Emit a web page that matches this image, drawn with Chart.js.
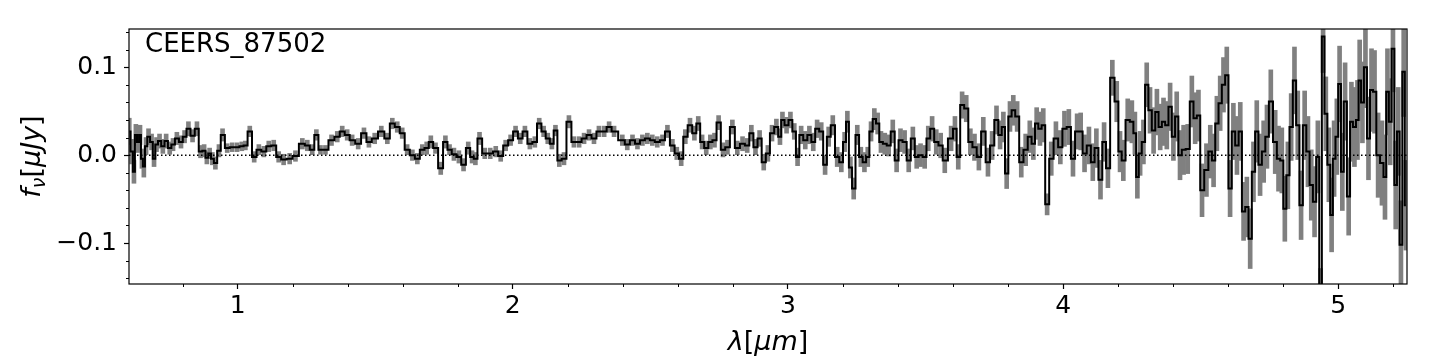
<!DOCTYPE html>
<html>
<head>
<meta charset="utf-8">
<title>CEERS_87502</title>
<script src="https://cdn.jsdelivr.net/npm/chart.js@4.4.1/dist/chart.umd.min.js"></script>
<style>
    body{ margin:0; background:#fff; }
    canvas{ display:block; }
</style>
</head>
<body>
<canvas id="specChart" width="1435" height="360"></canvas>
<script>

/* SPECTRUM DATA */

const objectName = "CEERS_87502";

const wavelength = [
    0.606,0.615,0.623,0.630,0.638,0.645,0.652,0.659,0.667,0.676,0.687,0.696,0.705,0.716,0.728,0.740,0.753,0.765,0.779,0.794,0.807,0.821,0.836,0.852,0.865,0.878,0.888,0.898,0.908,0.919,0.932,0.945,0.962,0.980,0.998,1.015,1.028,1.044,1.060,1.077,1.095,1.113,1.131,1.149,1.167,
    1.189,1.210,1.235,1.253,1.271,1.286,1.301,1.319,1.341,1.362,1.380,1.398,1.416,1.438,1.459,1.477,1.498,1.522,1.544,1.562,1.580,1.598,1.616,1.635,1.653,1.671,1.687,1.702,1.719,1.738,1.755,1.770,
    1.786,1.804,1.821,1.838,1.852,1.864,1.879,1.898,1.918,1.938,1.956,1.974,1.992,2.010,2.027,2.044,2.062,2.080,2.096,2.112,2.127,2.142,2.155,2.169,2.186,2.204,2.222,2.241,2.259,2.277,2.295,2.313,2.332,2.350,2.368,
    2.398,2.416,2.435,2.453,2.471,2.489,2.507,2.525,2.544,2.562,2.580,2.596,2.612,2.627,2.644,2.660,2.674,2.688,2.703,2.718,2.733,2.748,2.764,2.780,2.798,2.816,2.835,2.852,2.867,2.882,2.897,2.912,2.927,2.942,2.958,2.971,
    2.980,2.995,3.009,3.023,3.035,3.048,3.063,3.078,3.092,3.106,3.121,3.135,3.148,3.163,3.179,3.194,3.206,3.216,3.227,3.239,3.252,3.265,3.278,3.290,3.302,3.314,3.326,3.338,3.352,3.366,3.381,3.395,3.409,3.424,3.439,3.454,3.468,3.482,3.497,3.510,3.524,3.539,3.555,3.570,
    3.593,3.607,3.619,3.633,3.648,3.663,3.678,3.694,3.710,3.727,3.742,3.758,3.771,3.783,3.795,3.807,3.819,3.833,3.848,3.864,3.879,3.892,3.904,3.916,3.928,3.942,3.957,3.974,3.990,4.005,4.021,4.036,4.051,4.064,4.078,4.094,4.108,4.121,4.136,4.149,4.163,4.179,
    4.195,4.207,4.219,4.235,4.250,4.261,4.270,4.280,4.292,4.304,4.316,4.329,4.341,4.353,4.365,4.377,4.389,4.401,4.413,4.425,4.438,4.453,4.468,4.480,4.492,4.505,4.521,4.535,4.547,4.559,4.571,4.583,4.595,4.607,4.619,4.632,4.644,4.656,4.668,4.680,4.692,4.704,4.716,4.729,4.741,4.755,
    4.771,4.783,4.795,4.806,4.817,4.829,4.841,4.853,4.865,4.878,4.890,4.902,4.914,4.926,4.936,4.945,4.955,4.966,4.976,4.985,4.995,5.005,5.015,5.025,5.038,5.048,5.059,5.070,5.078,5.088,5.099,5.110,5.121,5.132,5.145,5.159,5.170,5.179,5.189,5.199,5.209,5.218,5.228,5.238,5.246
];

const flux = [
    0.027,0.004,-0.019,0.023,0.015,0.023,-0.004,-0.013,0.010,0.021,0.015,-0.004,0.012,0.016,0.010,0.016,0.008,0.012,0.019,0.015,0.021,0.030,0.022,0.030,0.004,0.005,-0.003,0.002,-0.004,-0.009,0.005,0.023,0.008,0.009,0.009,0.010,0.011,0.027,-0.002,0.006,0.004,0.010,0.011,-0.002,-0.005,
    -0.004,-0.001,0.013,0.011,0.006,0.023,0.006,0.006,0.017,0.021,0.027,0.023,0.017,0.013,0.025,0.015,0.019,0.027,0.019,0.036,0.032,0.025,0.006,0.000,-0.004,0.006,0.008,0.015,0.008,-0.015,0.015,0.006,
    0.001,-0.002,-0.011,0.008,-0.002,-0.004,0.019,0.002,0.002,0.004,-0.001,0.011,0.017,0.027,0.019,0.027,0.013,0.015,0.036,0.027,0.019,0.013,0.028,-0.006,-0.004,0.038,0.015,0.015,0.019,0.023,0.019,0.027,0.027,0.032,0.027,
    0.017,0.012,0.017,0.013,0.017,0.019,0.017,0.015,0.017,0.027,0.011,0.002,-0.004,0.021,0.034,0.025,0.036,0.015,0.008,0.015,0.017,0.037,0.006,0.009,0.032,0.008,0.013,0.011,0.025,0.009,0.019,-0.008,0.002,0.025,0.032,0.021,
    0.040,0.034,0.040,0.027,-0.002,0.023,0.017,0.023,0.015,0.030,0.027,-0.011,0.021,0.034,-0.002,-0.008,0.015,0.038,-0.014,-0.038,0.023,-0.002,-0.008,-0.002,0.027,0.041,0.036,0.015,0.013,0.011,0.027,-0.006,0.017,0.015,-0.006,0.019,-0.002,0.000,-0.002,0.019,0.030,0.015,0.011,-0.006,
    0.019,0.030,-0.002,0.057,0.053,0.015,0.009,-0.002,0.027,-0.008,0.011,0.040,0.023,0.032,-0.021,0.044,0.051,0.044,-0.008,0.006,0.021,0.013,0.036,0.030,0.034,-0.056,-0.004,0.019,0.009,0.030,0.032,-0.004,0.027,0.027,0.002,0.011,-0.008,0.008,-0.028,0.015,-0.015,0.088,
    0.061,0.004,-0.006,0.040,0.038,0.025,-0.025,0.002,0.015,0.080,0.051,0.028,0.049,0.032,0.038,0.034,0.055,0.021,0.044,0.000,0.006,0.007,0.061,0.042,0.045,-0.040,-0.017,0.004,-0.006,0.036,0.059,0.080,0.091,-0.038,0.027,0.011,0.027,-0.064,-0.059,-0.095,-0.019,0.027,-0.011,0.004,0.021,0.061,
    0.015,-0.004,-0.006,-0.061,-0.023,0.032,0.085,0.034,-0.057,0.034,0.004,-0.034,-0.053,-0.002,-0.170,0.135,0.047,-0.011,-0.068,-0.004,0.021,0.081,-0.019,0.061,-0.047,0.038,0.032,0.040,0.085,0.060,0.100,0.019,0.074,0.072,0.000,-0.009,-0.025,0.072,0.038,0.121,-0.034,0.027,-0.102,0.095,-0.057
];

const fluxErr = [
    0.015,0.014,0.013,0.012,0.012,0.011,0.011,0.012,0.010,0.009,0.009,0.009,0.008,0.008,0.008,0.008,0.007,0.007,0.007,0.007,0.007,0.008,0.007,0.008,0.007,0.007,0.007,0.006,0.007,0.007,0.007,0.007,0.005,0.005,0.005,0.005,0.005,0.006,0.006,0.006,0.006,0.006,0.006,0.006,0.006,
    0.006,0.006,0.006,0.006,0.006,0.006,0.005,0.005,0.006,0.006,0.006,0.006,0.006,0.006,0.006,0.006,0.006,0.006,0.006,0.006,0.006,0.006,0.006,0.006,0.006,0.006,0.007,0.007,0.006,0.007,0.007,0.006,
    0.007,0.007,0.007,0.007,0.007,0.007,0.007,0.006,0.006,0.006,0.006,0.006,0.006,0.006,0.006,0.006,0.006,0.006,0.006,0.006,0.006,0.006,0.006,0.007,0.007,0.007,0.006,0.006,0.006,0.006,0.006,0.006,0.006,0.006,0.006,
    0.006,0.006,0.006,0.006,0.006,0.006,0.006,0.006,0.006,0.007,0.007,0.007,0.008,0.008,0.008,0.008,0.008,0.008,0.008,0.008,0.008,0.008,0.008,0.008,0.008,0.008,0.008,0.008,0.009,0.009,0.009,0.009,0.009,0.009,0.009,0.009,
    0.009,0.009,0.009,0.009,0.010,0.010,0.010,0.010,0.010,0.010,0.010,0.011,0.011,0.011,0.011,0.011,0.011,0.012,0.012,0.012,0.011,0.011,0.011,0.011,0.011,0.012,0.012,0.012,0.012,0.012,0.013,0.013,0.013,0.013,0.013,0.013,0.013,0.013,0.013,0.014,0.014,0.014,0.014,0.014,
    0.014,0.014,0.014,0.015,0.015,0.015,0.015,0.015,0.016,0.016,0.016,0.016,0.016,0.017,0.017,0.017,0.017,0.017,0.017,0.018,0.018,0.018,0.018,0.019,0.019,0.012,0.019,0.019,0.019,0.020,0.020,0.020,0.020,0.021,0.021,0.021,0.021,0.022,0.022,0.022,0.022,0.020,
    0.023,0.023,0.023,0.024,0.024,0.024,0.024,0.025,0.025,0.025,0.026,0.026,0.026,0.026,0.027,0.027,0.027,0.027,0.028,0.028,0.028,0.028,0.029,0.029,0.029,0.030,0.030,0.030,0.030,0.031,0.031,0.031,0.032,0.032,0.032,0.033,0.033,0.033,0.034,0.034,0.034,0.035,0.035,0.035,0.036,0.036,
    0.036,0.037,0.037,0.037,0.038,0.038,0.038,0.039,0.039,0.039,0.040,0.040,0.040,0.041,0.041,0.041,0.042,0.042,0.042,0.043,0.043,0.043,0.044,0.044,0.044,0.045,0.045,0.045,0.046,0.046,0.046,0.047,0.047,0.047,0.048,0.048,0.048,0.049,0.049,0.049,0.050,0.050,0.050,0.051,0.051
];

/* AXES */

const xLimits = [0.605, 5.25];
const yLimits = [-0.1466, 0.1435];

const xMajor = [1, 2, 3, 4, 5];
const xTickLabels = ["1", "2", "3", "4", "5"];
const xMinor = [0.8, 1.2, 1.4, 1.6, 1.8, 2.2, 2.4, 2.6, 2.8, 3.2, 3.4, 3.6, 3.8, 4.2, 4.4, 4.6, 4.8, 5.2];

const yMajor = [-0.1, 0.0, 0.1];
const yTickLabels = ["\u22120.1", "0.0", "0.1"];
const yMinor = [-0.14, -0.12, -0.08, -0.06, -0.04, -0.02, 0.02, 0.04, 0.06, 0.08, 0.12, 0.14];

const FONT = "'DejaVu Sans', 'Liberation Sans', sans-serif";

// draws a row of text pieces (mathtext-like: italic letters, upright brackets)
function drawPieces(c, pieces, x, y){

    let total = 0;

    pieces.forEach(p => {
        c.font = p.font;
        p.w = c.measureText(p.text).width;
        total += p.w;
    });

    let cx = x - total / 2;

    pieces.forEach(p => {
        c.font = p.font;
        c.fillText(p.text, cx, y + (p.dy || 0));
        cx += p.w;
    });
}

const decorations = {
    id: "decorations",

    afterDraw(chart){

        const c = chart.ctx;
        const area = chart.chartArea;
        const xs = chart.scales.x;
        const ys = chart.scales.y;

        c.save();

        // frame
        c.strokeStyle = "#000";
        c.lineWidth = 1.2;
        c.strokeRect(area.left, area.top, area.right - area.left, area.bottom - area.top);

        // minor ticks
        c.lineWidth = 1;
        c.beginPath();
        xMinor.forEach(v => {
            const px = Math.round(xs.getPixelForValue(v)) + 0.5;
            c.moveTo(px, area.bottom);
            c.lineTo(px, area.bottom + 3);
        });
        yMinor.forEach(v => {
            const py = Math.round(ys.getPixelForValue(v)) + 0.5;
            c.moveTo(area.left, py);
            c.lineTo(area.left - 3, py);
        });
        c.stroke();

        c.fillStyle = "#000";
        c.textBaseline = "alphabetic";
        c.textAlign = "left";

        // object name
        c.font = "26px " + FONT;
        c.fillText(objectName, area.left + 16, area.top + 23);

        // x label  λ[μm]
        const it = "italic 27px " + FONT;
        const up = "27px " + FONT;
        drawPieces(c, [
            {text: "\u03bb", font: it},
            {text: "[", font: up},
            {text: "\u03bcm", font: it},
            {text: "]", font: up}
        ], (area.left + area.right) / 2, 350);

        // y label  f_ν[μJy]
        c.translate(40, (area.top + area.bottom) / 2);
        c.rotate(-Math.PI / 2);
        drawPieces(c, [
            {text: "f", font: it},
            {text: "\u03bd", font: "italic 19px " + FONT, dy: 5},
            {text: "[", font: up},
            {text: "\u03bcJy", font: it},
            {text: "]", font: up}
        ], 0, 0);

        c.restore();
    }
};

const ctx = document.getElementById("specChart");

const specChart = new Chart(ctx, {
    type: "line",
    data: {
        datasets: [
            {
                type: "line",
                label: "flux",
                data: wavelength.map((w, i) => ({x: w, y: flux[i]})),
                borderColor: "#000",
                borderWidth: 2,
                stepped: "middle",
                pointRadius: 0,
                order: 1
            },
            {
                type: "line",
                label: "zero",
                data: [{x: xLimits[0], y: 0}, {x: xLimits[1], y: 0}],
                borderColor: "#000",
                borderWidth: 1.5,
                borderDash: [1.5, 2.5],
                pointRadius: 0,
                order: 2
            },
            {
                type: "bar",
                label: "error",
                data: wavelength.map((w, i) => ({x: w, y: [flux[i] - fluxErr[i], flux[i] + fluxErr[i]]})),
                backgroundColor: "#808080",
                barThickness: 4,
                order: 3
            }
        ]
    },
    options: {
        responsive: false,
        animation: false,
        events: [],
        layout: {
            padding: {top: 29, right: 28, left: 0, bottom: 0}
        },
        plugins: {
            legend: {display: false},
            tooltip: {enabled: false}
        },
        scales: {
            x: {
                type: "linear",
                min: xLimits[0],
                max: xLimits[1],
                offset: false,
                afterBuildTicks: s => { s.ticks = xMajor.map(v => ({value: v})); },
                afterFit: s => { s.height = 76; },
                ticks: {
                    callback: (v, i) => xTickLabels[i],
                    font: {family: FONT, size: 25},
                    color: "#000",
                    padding: 2,
                    maxRotation: 0,
                    autoSkip: false
                },
                grid: {
                    offset: false,
                    drawOnChartArea: false,
                    tickLength: 5,
                    tickColor: "#000",
                    tickWidth: 1.2
                },
                border: {display: false}
            },
            y: {
                type: "linear",
                min: yLimits[0],
                max: yLimits[1],
                afterBuildTicks: s => { s.ticks = yMajor.map(v => ({value: v})); },
                afterFit: s => { s.width = 129; },
                ticks: {
                    callback: (v, i) => yTickLabels[i],
                    font: {family: FONT, size: 25},
                    color: "#000",
                    padding: 7,
                    autoSkip: false
                },
                grid: {
                    drawOnChartArea: false,
                    tickLength: 5,
                    tickColor: "#000",
                    tickWidth: 1.2
                },
                border: {display: false}
            }
        }
    },
    plugins: [decorations]
});

</script>
</body>
</html>
